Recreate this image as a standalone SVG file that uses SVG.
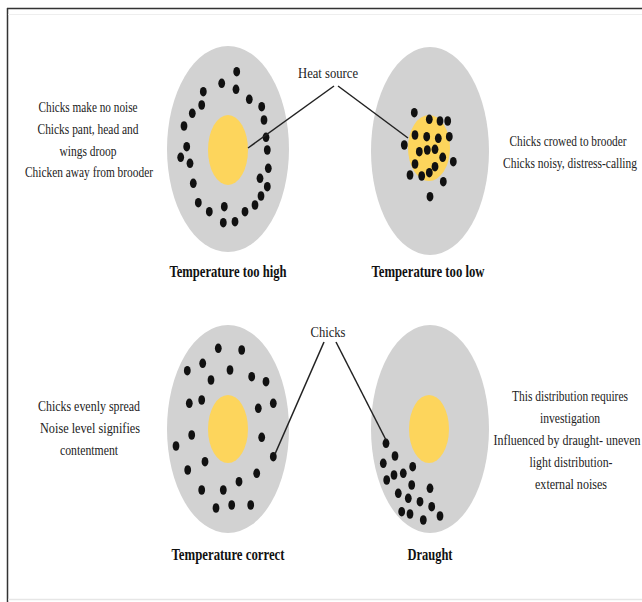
<svg xmlns="http://www.w3.org/2000/svg" width="642" height="602" viewBox="0 0 642 602">
<style>
.plate{fill:#d2d2d2}
.heat{fill:#fdd55c}
.chick{fill:#111}
.txt{font-family:"Liberation Serif","Times New Roman",serif;font-size:15px;fill:#222;text-anchor:middle}
.ttl{font-family:"Liberation Serif","Times New Roman",serif;font-size:17px;font-weight:bold;fill:#111;text-anchor:middle}
.lead{stroke:#222;stroke-width:1.5;fill:none}
</style>
<defs>
<ellipse id="c" rx="3.4" ry="4.8" class="chick"/>
</defs>
<rect x="0" y="0" width="642" height="602" fill="#fff"/>
<line x1="7" y1="8.5" x2="642" y2="8.5" stroke="#333" stroke-width="1.5"/>
<line x1="7.5" y1="8" x2="7.5" y2="602" stroke="#333" stroke-width="1.5"/>
<line x1="8" y1="14.5" x2="642" y2="14.5" stroke="#eee" stroke-width="1"/>
<line x1="8" y1="599.5" x2="642" y2="599.5" stroke="#e6e6e6" stroke-width="1.5"/>

<g id="high">
<ellipse cx="228" cy="149" rx="61" ry="103" class="plate"/>
<ellipse cx="228" cy="150" rx="20" ry="35" class="heat"/>
<use href="#c" x="236.7" y="71.7"/><use href="#c" x="221.7" y="83.3"/><use href="#c" x="236" y="89.3"/>
<use href="#c" x="203.3" y="91.7"/><use href="#c" x="201.7" y="105"/><use href="#c" x="249.3" y="99.3"/>
<use href="#c" x="192.3" y="113.3"/><use href="#c" x="261.7" y="106.7"/><use href="#c" x="184" y="126"/>
<use href="#c" x="264" y="120"/><use href="#c" x="266" y="137.3"/><use href="#c" x="186.7" y="146.7"/>
<use href="#c" x="180.7" y="157.3"/><use href="#c" x="267.3" y="150"/><use href="#c" x="190" y="163.3"/>
<use href="#c" x="268.3" y="168.3"/><use href="#c" x="260" y="178.3"/><use href="#c" x="193.3" y="183.3"/>
<use href="#c" x="267.3" y="186.7"/><use href="#c" x="261" y="196"/><use href="#c" x="198.3" y="202.7"/>
<use href="#c" x="255" y="205"/><use href="#c" x="209.3" y="211.7"/><use href="#c" x="224.3" y="206.7"/>
<use href="#c" x="245" y="211.7"/><use href="#c" x="223.3" y="222.7"/><use href="#c" x="235" y="221.7"/>
<text class="ttl" transform="translate(228,277) scale(0.75,1)" textLength="156" lengthAdjust="spacingAndGlyphs">Temperature too high</text>
</g>

<g id="low">
<ellipse cx="430" cy="151" rx="59" ry="104" class="plate"/>
<ellipse cx="429" cy="148" rx="21" ry="33" class="heat"/>
<use href="#c" x="414.3" y="112.7"/><use href="#c" x="429.3" y="119.3"/><use href="#c" x="440" y="121"/>
<use href="#c" x="447.7" y="121"/><use href="#c" x="415" y="135"/><use href="#c" x="426.7" y="136.7"/>
<use href="#c" x="438.3" y="138.3"/><use href="#c" x="449.3" y="136.7"/><use href="#c" x="404.3" y="145"/>
<use href="#c" x="419.3" y="151.7"/><use href="#c" x="427.3" y="150"/><use href="#c" x="435" y="149.3"/>
<use href="#c" x="442.7" y="157.3"/><use href="#c" x="415" y="164"/><use href="#c" x="435" y="166.7"/>
<use href="#c" x="453.3" y="161.7"/><use href="#c" x="410" y="175"/><use href="#c" x="421.7" y="176"/>
<use href="#c" x="429.3" y="172.7"/><use href="#c" x="443.3" y="181.7"/><use href="#c" x="430" y="196.7"/>
<text class="ttl" transform="translate(428,277) scale(0.75,1)" textLength="150.7" lengthAdjust="spacingAndGlyphs">Temperature too low</text>
</g>

<g id="correct">
<ellipse cx="228" cy="429" rx="61" ry="104" class="plate"/>
<ellipse cx="228" cy="429" rx="20" ry="34" class="heat"/>
<use href="#c" x="218.3" y="348.3"/><use href="#c" x="241.7" y="350"/><use href="#c" x="202.7" y="363.3"/>
<use href="#c" x="187.3" y="370.7"/><use href="#c" x="230" y="370"/><use href="#c" x="211" y="380"/>
<use href="#c" x="251.7" y="376.7"/><use href="#c" x="266" y="381.7"/><use href="#c" x="189.3" y="403.3"/>
<use href="#c" x="201.7" y="400"/><use href="#c" x="273.3" y="403.3"/><use href="#c" x="258.3" y="408.3"/>
<use href="#c" x="191.7" y="435"/><use href="#c" x="176" y="446"/><use href="#c" x="261.7" y="437.3"/>
<use href="#c" x="273.3" y="456.7"/><use href="#c" x="205" y="461.7"/><use href="#c" x="187.7" y="470"/>
<use href="#c" x="256.7" y="473.3"/><use href="#c" x="239" y="481.7"/><use href="#c" x="201.7" y="490"/>
<use href="#c" x="223.3" y="490"/><use href="#c" x="216" y="508"/><use href="#c" x="231.7" y="505"/>
<use href="#c" x="250.7" y="505"/>
<text class="ttl" transform="translate(228,560) scale(0.75,1)" textLength="150.7" lengthAdjust="spacingAndGlyphs">Temperature correct</text>
</g>

<g id="draught">
<ellipse cx="430" cy="429" rx="59" ry="104" class="plate"/>
<ellipse cx="429" cy="429" rx="20" ry="34" class="heat"/>
<use href="#c" x="386" y="443.3"/><use href="#c" x="395" y="456"/><use href="#c" x="383.3" y="463.3"/>
<use href="#c" x="412.7" y="466.7"/><use href="#c" x="403.3" y="473.3"/><use href="#c" x="394" y="475"/>
<use href="#c" x="386.7" y="480"/><use href="#c" x="411.7" y="485"/><use href="#c" x="430" y="488.3"/>
<use href="#c" x="398.3" y="493.3"/><use href="#c" x="408.3" y="498.3"/><use href="#c" x="420" y="501.7"/>
<use href="#c" x="431.7" y="506.7"/><use href="#c" x="401.7" y="511.7"/><use href="#c" x="410" y="514"/>
<use href="#c" x="440" y="516"/><use href="#c" x="423.3" y="520"/>
<text class="ttl" transform="translate(430,560) scale(0.75,1)" textLength="60" lengthAdjust="spacingAndGlyphs">Draught</text>
</g>

<g id="notes">
<text class="txt" transform="translate(88,112) scale(0.78,1)" textLength="126.9" lengthAdjust="spacingAndGlyphs">Chicks make no noise</text>
<text class="txt" transform="translate(88,134) scale(0.78,1)" textLength="129.5" lengthAdjust="spacingAndGlyphs">Chicks pant, head and</text>
<text class="txt" transform="translate(88,156) scale(0.78,1)" textLength="73.1" lengthAdjust="spacingAndGlyphs">wings droop</text>
<text class="txt" transform="translate(89,177) scale(0.78,1)" textLength="164.1" lengthAdjust="spacingAndGlyphs">Chicken away from brooder</text>
<text class="txt" transform="translate(568,146) scale(0.78,1)" textLength="150" lengthAdjust="spacingAndGlyphs">Chicks crowed to brooder</text>
<text class="txt" transform="translate(570,168) scale(0.78,1)" textLength="171.8" lengthAdjust="spacingAndGlyphs">Chicks noisy, distress-calling</text>
<text class="txt" transform="translate(89,411) scale(0.78,1)" textLength="130.8" lengthAdjust="spacingAndGlyphs">Chicks evenly spread</text>
<text class="txt" transform="translate(90,433) scale(0.78,1)" textLength="128.2" lengthAdjust="spacingAndGlyphs">Noise level signifies</text>
<text class="txt" transform="translate(89,455) scale(0.78,1)" textLength="74.4" lengthAdjust="spacingAndGlyphs">contentment</text>
<text class="txt" transform="translate(570,401) scale(0.78,1)" textLength="148.7" lengthAdjust="spacingAndGlyphs">This distribution requires</text>
<text class="txt" transform="translate(570,423) scale(0.78,1)" textLength="76.9" lengthAdjust="spacingAndGlyphs">investigation</text>
<text class="txt" transform="translate(567,445) scale(0.78,1)" textLength="188.5" lengthAdjust="spacingAndGlyphs">Influenced by draught- uneven</text>
<text class="txt" transform="translate(571,467) scale(0.78,1)" textLength="106.4" lengthAdjust="spacingAndGlyphs">light distribution-</text>
<text class="txt" transform="translate(571,489) scale(0.78,1)" textLength="92.3" lengthAdjust="spacingAndGlyphs">external noises</text>
</g>

<g id="callouts">
<text class="txt" transform="translate(328,78) scale(0.78,1)" textLength="76.9" lengthAdjust="spacingAndGlyphs">Heat source</text>
<text class="txt" transform="translate(328,337) scale(0.78,1)" textLength="44.9" lengthAdjust="spacingAndGlyphs">Chicks</text>
</g>

<g id="connectors">
<line class="lead" x1="334" y1="86" x2="248" y2="148"/>
<line class="lead" x1="338" y1="86" x2="408" y2="138"/>
<line class="lead" x1="324" y1="342" x2="275" y2="454"/>
<line class="lead" x1="336" y1="342" x2="386" y2="440"/>
</g>
</svg>
